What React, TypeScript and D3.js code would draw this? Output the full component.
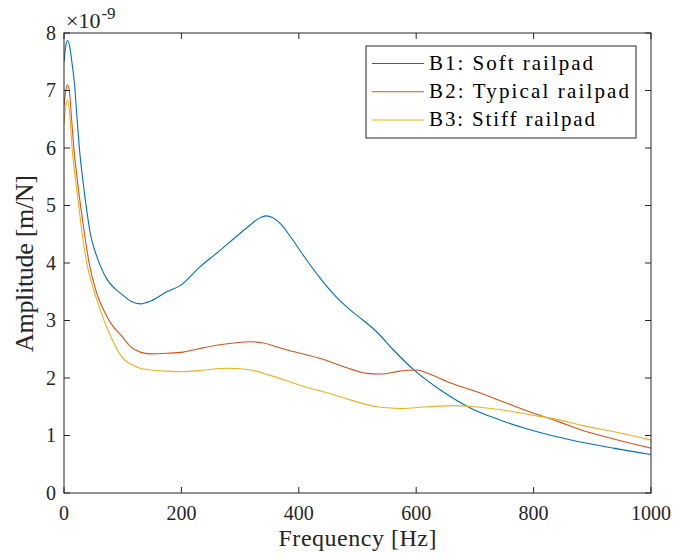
import React from "react";
import * as d3 from "d3";

const b1Freq = [0, 3, 6, 10, 14, 18, 22, 26, 32, 37.5, 45, 53, 62, 73, 85, 99, 115, 130, 150, 175, 200, 230, 260, 290, 317, 328, 337, 345, 355, 370, 385, 410, 436, 460, 488, 510, 533, 560, 596, 640, 692, 740, 794, 860, 936, 1000];
const b1Amp = [7.5, 7.78, 7.87, 7.75, 7.45, 7.1, 6.55, 6.02, 5.45, 5.01, 4.5, 4.2, 3.95, 3.72, 3.57, 3.45, 3.33, 3.29, 3.35, 3.5, 3.62, 3.92, 4.17, 4.43, 4.66, 4.75, 4.8, 4.82, 4.79, 4.67, 4.47, 4.1, 3.74, 3.45, 3.18, 3.0, 2.8, 2.5, 2.14, 1.8, 1.48, 1.28, 1.1, 0.93, 0.78, 0.67];

const b2Freq = [0, 3, 6, 9, 13, 16.5, 22, 28, 35, 43, 55, 70, 80, 99, 112, 130, 147, 175, 203, 230, 260, 290, 317, 340, 363, 390, 414, 440, 459, 490, 516, 539, 573, 601, 625, 652, 703, 750, 794, 840, 880, 940, 1000];
const b2Amp = [6.73, 7.0, 7.1, 7.0, 6.5, 6.02, 5.5, 5.01, 4.5, 3.99, 3.5, 3.13, 2.95, 2.72, 2.56, 2.45, 2.42, 2.43, 2.45, 2.51, 2.57, 2.61, 2.63, 2.61, 2.54, 2.46, 2.4, 2.33, 2.26, 2.15, 2.08, 2.07, 2.12, 2.14, 2.06, 1.94, 1.76, 1.58, 1.41, 1.25, 1.1, 0.93, 0.78];

const b3Freq = [0, 3, 6, 10, 13.6, 19, 25, 31, 39, 50, 62, 72, 82, 95, 105, 118, 130, 147, 175, 203, 240, 277, 300, 323, 350, 374, 400, 431, 460, 488, 515, 539, 573, 620, 664, 700, 750, 794, 840, 880, 940, 1000];
const b3Amp = [6.43, 6.72, 6.83, 6.55, 6.02, 5.5, 5.01, 4.5, 3.99, 3.55, 3.18, 2.9, 2.67, 2.42, 2.3, 2.22, 2.17, 2.14, 2.12, 2.11, 2.14, 2.17, 2.16, 2.13, 2.05, 1.97, 1.88, 1.79, 1.71, 1.62, 1.54, 1.49, 1.47, 1.5, 1.52, 1.5, 1.44, 1.36, 1.28, 1.18, 1.06, 0.92];

const seriesNames = ["B1: Soft railpad", "B2: Typical railpad", "B3: Stiff railpad"];
const seriesColors = ["#0072BD", "#D95319", "#EDB120"];
const legendWidths = [164, 200, 166];
const xTicks = [0, 200, 400, 600, 800, 1000];
const yTicks = [0, 1, 2, 3, 4, 5, 6, 7, 8];

const W = 689;
const H = 560;
const left = 64;
const right = 651;
const top = 33;
const bottom = 493;
const axisColor = "#262626";
const font = "Liberation Serif";

export default function App() {
  const x = d3.scaleLinear().domain([0, 1000]).range([left, right]);
  const y = d3.scaleLinear().domain([0, 8]).range([bottom, top]);
  const line = d3
    .line<[number, number]>()
    .x((d) => x(d[0]))
    .y((d) => y(d[1]))
    .curve(d3.curveMonotoneX);
  const series = [
    d3.zip(b1Freq, b1Amp) as [number, number][],
    d3.zip(b2Freq, b2Amp) as [number, number][],
    d3.zip(b3Freq, b3Amp) as [number, number][],
  ];
  const tl = 6;
  const legX = 366;
  const legY = 46;
  const legW = 270;
  const legH = 92;
  const rowY = [63.5, 91.8, 120];

  return (
    <svg
      width={W}
      height={H}
      style={{ position: "absolute", left: 0, top: 0, background: "#fff", fontFamily: font }}
    >
      <defs>
        <clipPath id="clip">
          <rect x={left} y={top} width={right - left} height={bottom - top} />
        </clipPath>
      </defs>
      <rect x={0} y={0} width={W} height={H} fill="#fff" />
      <g clipPath="url(#clip)">
        {series.map((s, i) => (
          <path key={i} d={line(s) || ""} fill="none" stroke={seriesColors[i]} strokeWidth={1.1} />
        ))}
      </g>
      <rect x={left} y={top} width={right - left} height={bottom - top} fill="none" stroke={axisColor} strokeWidth={1} />
      {xTicks.map((t) => (
        <g key={"x" + t}>
          <line x1={x(t)} x2={x(t)} y1={bottom} y2={bottom - tl} stroke={axisColor} />
          <line x1={x(t)} x2={x(t)} y1={top} y2={top + tl} stroke={axisColor} />
          <text x={x(t)} y={520} textAnchor="middle" fontSize={20} fill={axisColor} style={{ fontFamily: font }}>
            {t}
          </text>
        </g>
      ))}
      {yTicks.map((t) => (
        <g key={"y" + t}>
          <line x1={left} x2={left + tl} y1={y(t)} y2={y(t)} stroke={axisColor} />
          <line x1={right} x2={right - tl} y1={y(t)} y2={y(t)} stroke={axisColor} />
          <text x={left - 8} y={y(t) + 6.5} textAnchor="end" fontSize={20} fill={axisColor} style={{ fontFamily: font }}>
            {t}
          </text>
        </g>
      ))}
      <text x={66} y={28} fontSize={22} fill={axisColor} style={{ fontFamily: font }}>
        ×10<tspan dx={1} dy={-9} fontSize={17}>-9</tspan>
      </text>
      <text
        x={357.5}
        y={546}
        textAnchor="middle"
        fontSize={24}
        fill={axisColor}
        textLength={158}
        lengthAdjust="spacing"
        style={{ fontFamily: font }}
      >
        Frequency [Hz]
      </text>
      <text
        transform={`translate(33, 263.5) rotate(-90)`}
        textAnchor="middle"
        fontSize={26}
        fill={axisColor}
        textLength={177}
        lengthAdjust="spacing"
        style={{ fontFamily: font }}
      >
        Amplitude [m/N]
      </text>
      <rect x={legX} y={legY} width={legW} height={legH} fill="#fff" stroke={axisColor} strokeWidth={1} />
      {seriesNames.map((n, i) => (
        <g key={n}>
          <line x1={372} x2={424} y1={rowY[i]} y2={rowY[i]} stroke={seriesColors[i]} strokeWidth={1.1} />
          <text
            x={429}
            y={rowY[i] + 6.2}
            fontSize={21}
            fill="#000"
            textLength={legendWidths[i]}
            lengthAdjust="spacing"
            style={{ fontFamily: font }}
          >
            {n}
          </text>
        </g>
      ))}
    </svg>
  );
}
